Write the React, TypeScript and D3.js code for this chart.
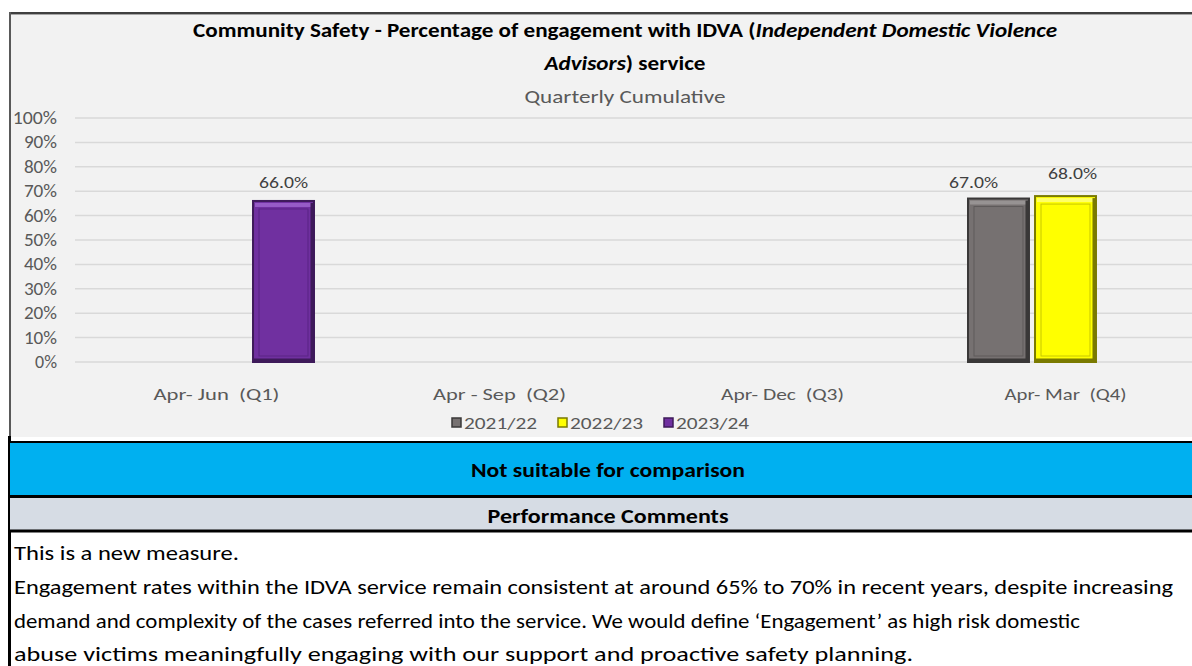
import React from "react";
import * as d3 from "d3";

const categories = ["Apr- Jun  (Q1)", "Apr - Sep  (Q2)", "Apr- Dec  (Q3)", "Apr- Mar  (Q4)"];
const seriesNames = ["2021/22", "2022/23", "2023/24"];
const values2021 = [null, null, null, 0.67];
const values2022 = [null, null, null, 0.68];
const values2023 = [0.66, null, null, null];
const yTicks = [0, 0.1, 0.2, 0.3, 0.4, 0.5, 0.6, 0.7, 0.8, 0.9, 1.0];
const commentLines = [
  "This is a new measure.",
  "Engagement rates within the IDVA service remain consistent at around 65% to 70% in recent years, despite increasing",
  "demand and complexity of the cases referred into the service. We would define \u2018Engagement\u2019 as high risk domestic",
  "abuse victims meaningfully engaging with our support and proactive safety planning.",
];

const seriesValues = [values2021, values2022, values2023];
const seriesStyle = [
  { fill: "#767171", dark: "#3a3838", light: "#a09c9c", inner: "#5f5b5b" },
  { fill: "#ffff00", dark: "#7a7a00", light: "#ffff80", inner: "#c8c800" },
  { fill: "#7030a0", dark: "#3e1a5a", light: "#a066d0", inner: "#5a2485" },
];

const FONT = "Carlito, Calibri, Lato, 'Open Sans', sans-serif";

export default function App() {
  const W = 1192;
  const H = 666;
  const x0 = d3.scaleBand<string>().domain(categories).range([75, 1207]).paddingInner(0.311).paddingOuter(0.1555);
  const x1 = d3.scaleBand<string>().domain(seriesNames).range([0, x0.bandwidth()]).paddingInner(0.09).paddingOuter(0);
  const y = d3.scaleLinear().domain([0, 1]).range([362, 118]);
  const fmtTick = d3.format(".0%");
  const fmtLbl = d3.format(".1%");

  const labelNudge = [
    { dx: -25, dy: 1 },
    { dx: 7, dy: -5 },
    { dx: 0, dy: -1 },
  ];

  const commentWidths = [225, 1159, 1066, 899];
  const commentBase = [560, 594, 628, 661];
  const xLabelWidths = [126, 133, 123, 122];

  return (
    <div style={{ position: "absolute", left: 0, top: 0, width: W, height: H, overflow: "hidden", background: "#fff" }}>
      <svg width={W} height={H} style={{ display: "block", fontFamily: FONT }}>
        {/* chart area */}
        <rect x={10} y={13} width={W} height={424} fill="#f2f2f2" />
        <line x1={9} y1={13} x2={W} y2={13} stroke="#3f3f3f" strokeWidth={2} />
        <line x1={9} y1={14.5} x2={W} y2={14.5} stroke="#a6a6a6" strokeWidth={1} />
        <line x1={10} y1={12} x2={10} y2={437} stroke="#595959" strokeWidth={2} />

        {/* title */}
        <text x={625} y={37} textAnchor="middle" fontSize={20.5} fontWeight="bold" fill="#000" textLength={864} lengthAdjust="spacingAndGlyphs">
          <tspan>Community Safety - Percentage of engagement with IDVA (</tspan>
          <tspan fontStyle="italic">Independent Domestic Violence</tspan>
        </text>
        <text x={625} y={70} textAnchor="middle" fontSize={20.5} fontWeight="bold" fill="#000" textLength={161} lengthAdjust="spacingAndGlyphs">
          <tspan fontStyle="italic">Advisors</tspan>
          <tspan>) service</tspan>
        </text>
        <text x={625} y={103} textAnchor="middle" fontSize={19} fill="#595959" textLength={201} lengthAdjust="spacingAndGlyphs">
          Quarterly Cumulative
        </text>

        {/* gridlines and y ticks */}
        {yTicks.map((t) => {
          const s = fmtTick(t);
          return (
            <g key={t}>
              <line x1={75} x2={W} y1={y(t)} y2={y(t)} stroke="#d9d9d9" strokeWidth={1.5} />
              <text x={57} y={y(t) + 6} textAnchor="end" fontSize={17.5} fill="#595959" textLength={s.length * 11.2 - 0.5} lengthAdjust="spacingAndGlyphs">
                {s}
              </text>
            </g>
          );
        })}

        {/* bars */}
        {categories.map((c, ci) =>
          seriesNames.map((s, si) => {
            const v = seriesValues[si][ci];
            if (v == null) return null;
            const st = seriesStyle[si];
            const bx = (x0(c) as number) + (x1(s) as number);
            const bw = x1.bandwidth();
            const by = y(v);
            const bh = y(0) - by;
            return (
              <g key={c + s}>
                <rect x={bx} y={by} width={bw} height={bh} fill={st.fill} stroke={st.dark} strokeWidth={2} />
                <rect x={bx + 2} y={by + 2} width={bw - 4} height={4} fill={st.light} opacity={0.8} />
                <rect x={bx + 6} y={by + 8} width={bw - 12} height={bh - 14} fill="none" stroke={st.inner} strokeWidth={1} />
                <line x1={bx + bw - 2} x2={bx + bw - 2} y1={by + 2} y2={by + bh - 1} stroke={st.dark} strokeWidth={3} />
                <line x1={bx + 1} x2={bx + bw - 1} y1={by + bh - 2} y2={by + bh - 2} stroke={st.dark} strokeWidth={3} />
                <text
                  x={bx + bw / 2 + labelNudge[si].dx}
                  y={by - 12 + labelNudge[si].dy}
                  textAnchor="middle"
                  fontSize={17}
                  fill="#404040"
                  textLength={49}
                  lengthAdjust="spacingAndGlyphs"
                >
                  {fmtLbl(v)}
                </text>
              </g>
            );
          })
        )}

        {/* x labels */}
        {categories.map((c, i) => (
          <text
            key={c}
            x={(x0(c) as number) + x0.bandwidth() / 2}
            y={400}
            textAnchor="middle"
            fontSize={17}
            fill="#595959"
            style={{ whiteSpace: "pre" }}
            textLength={xLabelWidths[i]}
            lengthAdjust="spacingAndGlyphs"
          >
            {c}
          </text>
        ))}

        {/* legend */}
        {seriesNames.map((s, i) => {
          const lx = 452 + i * 106;
          const st = seriesStyle[i];
          return (
            <g key={s}>
              <rect x={lx} y={418} width={9} height={9} fill={st.fill} stroke={st.dark} strokeWidth={1.5} />
              <text x={lx + 12} y={429} fontSize={17} fill="#595959" textLength={73} lengthAdjust="spacingAndGlyphs">
                {s}
              </text>
            </g>
          );
        })}

        {/* blue band */}
        <line x1={9.5} y1={436} x2={9.5} y2={H} stroke="#000" strokeWidth={3} />
        <rect x={10} y={443} width={W} height={52} fill="#00b0f0" />
        <line x1={8} x2={W} y1={442} y2={442} stroke="#000" strokeWidth={2} />
        <line x1={8} x2={W} y1={496.5} y2={496.5} stroke="#000" strokeWidth={3} />
        <text x={608} y={477} textAnchor="middle" fontSize={20} fontWeight="bold" fill="#000" textLength={274} lengthAdjust="spacingAndGlyphs">
          Not suitable for comparison
        </text>

        {/* grey band */}
        <rect x={10} y={498} width={W} height={32} fill="#d6dce4" />
        <line x1={8} x2={W} y1={531} y2={531} stroke="#000" strokeWidth={3} />
        <text x={608} y={523} textAnchor="middle" fontSize={20} fontWeight="bold" fill="#000" textLength={241} lengthAdjust="spacingAndGlyphs">
          Performance Comments
        </text>

        {/* comments */}
        {commentLines.map((l, i) => (
          <text key={i} x={14} y={commentBase[i]} fontSize={21} fill="#000" textLength={commentWidths[i]} lengthAdjust="spacingAndGlyphs">
            {l}
          </text>
        ))}
      </svg>
    </div>
  );
}
